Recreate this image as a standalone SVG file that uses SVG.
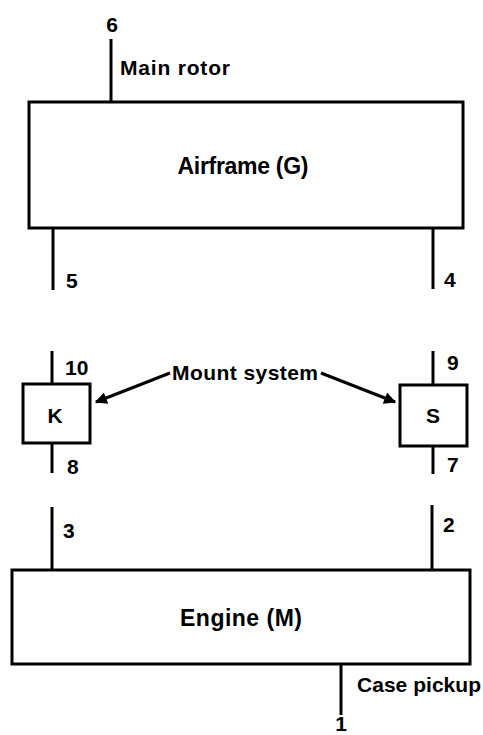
<svg xmlns="http://www.w3.org/2000/svg" width="483" height="735" viewBox="0 0 483 735">
<style>
text{font-family:"Liberation Sans",Arial,sans-serif;font-weight:bold;font-size:21px;fill:#000}
.big{font-size:23px}
.box{fill:#fff;stroke:#000;stroke-width:3}
.ln{stroke:#000;stroke-width:3;fill:none}
</style>
<defs>
<marker id="ah" viewBox="0 0 10 10" refX="9" refY="5" markerWidth="4.5" markerHeight="4" orient="auto" markerUnits="strokeWidth">
<path d="M0,0 L10,5 L0,10 z" fill="#000"/>
</marker>
</defs>
<g id="connectors">
<line class="ln" x1="111" y1="39" x2="111" y2="102"/>
<line class="ln" x1="53" y1="228" x2="53" y2="290"/>
<line class="ln" x1="433" y1="228" x2="433" y2="289"/>
<line class="ln" x1="52" y1="351" x2="52" y2="384"/>
<line class="ln" x1="52" y1="443" x2="52" y2="473"/>
<line class="ln" x1="433" y1="351" x2="433" y2="385"/>
<line class="ln" x1="433" y1="446" x2="433" y2="474"/>
<line class="ln" x1="52" y1="507" x2="52" y2="570"/>
<line class="ln" x1="432" y1="505" x2="432" y2="570"/>
<line class="ln" x1="341" y1="664" x2="341" y2="715"/>
<line class="ln" x1="170" y1="373" x2="96" y2="402" marker-end="url(#ah)"/>
<line class="ln" x1="321" y1="373" x2="395" y2="402" marker-end="url(#ah)"/>
</g>
<g id="airframe">
<rect class="box" x="29" y="102" width="434" height="126"/>
<text class="big" x="243" y="174" text-anchor="middle" textLength="131">Airframe (G)</text>
</g>
<g id="K">
<rect class="box" x="23" y="384" width="67" height="59"/>
<text x="55" y="423" text-anchor="middle">K</text>
</g>
<g id="S">
<rect class="box" x="400" y="385" width="67" height="61"/>
<text x="433" y="423" text-anchor="middle">S</text>
</g>
<g id="engine">
<rect class="box" x="12" y="570" width="458" height="94"/>
<text class="big" x="241" y="626" text-anchor="middle" textLength="122">Engine (M)</text>
</g>
<g id="labels">
<text x="112" y="32" text-anchor="middle">6</text>
<text x="120" y="75" textLength="110">Main rotor</text>
<text x="66" y="288">5</text>
<text x="444" y="287">4</text>
<text x="65" y="375">10</text>
<text x="67" y="474">8</text>
<text x="447" y="370">9</text>
<text x="447" y="472">7</text>
<text x="172" y="380" textLength="146">Mount system</text>
<text x="63" y="538">3</text>
<text x="443" y="532">2</text>
<text x="357" y="692" textLength="124">Case pickup</text>
<text x="341" y="731" text-anchor="middle">1</text>
</g>
</svg>
